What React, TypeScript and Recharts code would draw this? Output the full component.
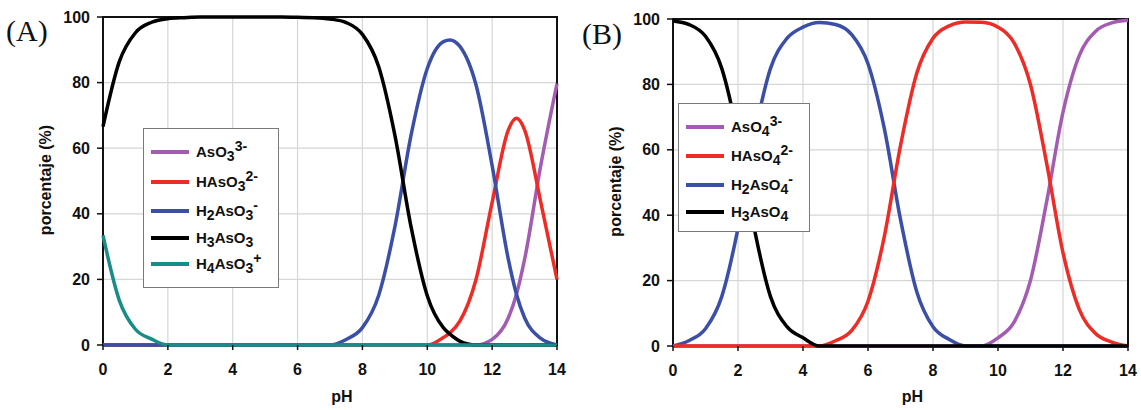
import React from "react";
import { LineChart, Line, XAxis, YAxis, CartesianGrid, ReferenceArea, Label } from "recharts";

// pH grid and species percentages
const phA = [0, 0.5, 1, 1.5, 2, 2.5, 3, 3.5, 4, 4.5, 5, 5.5, 6, 6.5, 7, 7.5, 8, 8.5, 9, 9.5, 10, 10.5, 10.7, 11, 11.5, 12, 12.5, 12.75, 13, 13.5, 14];
const asO3 = [0, 0, 0, 0, 0, 0, 0, 0, 0, 0, 0, 0, 0, 0, 0, 0, 0, 0, 0, 0, 0, 0, 0, 0, 0, 1.7, 8.3, 15.5, 26.1, 54.8, 79.7];
const hAsO3 = [0, 0, 0, 0, 0, 0, 0, 0, 0, 0, 0, 0, 0, 0, 0, 0, 0, 0, 0, 0, 0, 2.3, 3.7, 7.2, 19.9, 43.5, 65.6, 69.1, 65.6, 43.5, 20.0];
const h2AsO3 = [0, 0, 0, 0, 0, 0, 0, 0, 0, 0, 0, 0, 0, 0, 0, 1.7, 5.3, 15.1, 36.0, 64.0, 84.3, 92.5, 93.0, 91.1, 79.4, 54.7, 26.1, 15.5, 8.3, 2.0, 0];
const h3AsO3 = [66.6, 86.3, 95.2, 98.4, 99.5, 99.8, 100, 100, 100, 100, 100, 100, 99.9, 99.8, 99.4, 98.3, 94.7, 84.9, 64.0, 36.0, 15.0, 5.2, 3.3, 1.2, 0, 0, 0, 0, 0, 0, 0];
const h4AsO3 = [33.4, 13.7, 4.8, 1.8, 0, 0, 0, 0, 0, 0, 0, 0, 0, 0, 0, 0, 0, 0, 0, 0, 0, 0, 0, 0, 0, 0, 0, 0, 0, 0, 0];

const phB = [0, 0.5, 1, 1.5, 2, 2.5, 3, 3.5, 4, 4.5, 5, 5.5, 6, 6.5, 7, 7.5, 8, 8.5, 9, 9.5, 10, 10.5, 11, 11.5, 12, 12.5, 13, 13.5, 14];
const asO4 = [0, 0, 0, 0, 0, 0, 0, 0, 0, 0, 0, 0, 0, 0, 0, 0, 0, 0, 0, 0, 2.5, 7.4, 20.1, 44.3, 71.5, 88.8, 96.2, 98.8, 99.6];
const hAsO4 = [0, 0, 0, 0, 0, 0, 0, 0, 0, 0, 1.6, 4.8, 13.7, 33.4, 61.3, 83.4, 94.1, 97.9, 99.1, 99.0, 97.5, 92.6, 79.9, 55.7, 28.5, 11.2, 3.8, 1.2, 0];
const h2AsO4 = [0, 1.7, 5.3, 15.1, 36.0, 64.0, 84.9, 94.0, 97.5, 98.9, 98.3, 95.2, 86.3, 66.6, 38.7, 16.6, 5.9, 2.0, 0, 0, 0, 0, 0, 0, 0, 0, 0, 0, 0];
const h3AsO4 = [99.4, 98.3, 94.7, 84.9, 64.0, 36.0, 15.1, 6.0, 2.5, 0, 0, 0, 0, 0, 0, 0, 0, 0, 0, 0, 0, 0, 0, 0, 0, 0, 0, 0, 0];

const xTicks = [0, 2, 4, 6, 8, 10, 12, 14];
const yTicks = [0, 20, 40, 60, 80, 100];

const PURPLE = "#a45cb2";
const RED = "#ef2b25";
const BLUE = "#3b4fa6";
const BLACK = "#000000";
const TEAL = "#178c88";

const FONT = "'Liberation Sans', Arial, sans-serif";

const dataA = phA.map((ph, i) => ({
  ph,
  asO3: asO3[i],
  hAsO3: hAsO3[i],
  h2AsO3: h2AsO3[i],
  h3AsO3: h3AsO3[i],
  h4AsO3: h4AsO3[i],
}));

const dataB = phB.map((ph, i) => ({
  ph,
  asO4: asO4[i],
  hAsO4: hAsO4[i],
  h2AsO4: h2AsO4[i],
  h3AsO4: h3AsO4[i],
}));

// formula pieces: [text, kind]
type Part = [string, "" | "sub" | "sup"];
const legendA: { color: string; parts: Part[] }[] = [
  { color: PURPLE, parts: [["AsO", ""], ["3", "sub"], ["3-", "sup"]] },
  { color: RED, parts: [["HAsO", ""], ["3", "sub"], ["2-", "sup"]] },
  { color: BLUE, parts: [["H", ""], ["2", "sub"], ["AsO", ""], ["3", "sub"], ["-", "sup"]] },
  { color: BLACK, parts: [["H", ""], ["3", "sub"], ["AsO", ""], ["3", "sub"]] },
  { color: TEAL, parts: [["H", ""], ["4", "sub"], ["AsO", ""], ["3", "sub"], ["+", "sup"]] },
];
const legendB: { color: string; parts: Part[] }[] = [
  { color: PURPLE, parts: [["AsO", ""], ["4", "sub"], ["3-", "sup"]] },
  { color: RED, parts: [["HAsO", ""], ["4", "sub"], ["2-", "sup"]] },
  { color: BLUE, parts: [["H", ""], ["2", "sub"], ["AsO", ""], ["4", "sub"], ["-", "sup"]] },
  { color: BLACK, parts: [["H", ""], ["3", "sub"], ["AsO", ""], ["4", "sub"]] },
];

const Formula = ({ parts }: { parts: Part[] }) => (
  <span>
    {parts.map(([t, k], i) => (
      <span
        key={i}
        style={{
          position: "relative",
          fontSize: k ? 14 : 15,
          top: k === "sub" ? 4 : k === "sup" ? -6 : 0,
        }}
      >
        {t}
      </span>
    ))}
  </span>
);

const LegendBox = ({
  items,
  left,
  top,
  width,
  height,
  rows,
}: {
  items: { color: string; parts: Part[] }[];
  left: number;
  top: number;
  width: number;
  height: number;
  rows: number[];
}) => (
  <div
    style={{
      position: "absolute",
      left,
      top,
      width,
      height,
      boxSizing: "border-box",
      border: "1px solid #7a7a7a",
      background: "#fff",
      fontFamily: FONT,
      fontWeight: "bold",
      color: "#111",
    }}
  >
    {items.map((it, i) => (
      <div
        key={i}
        style={{
          position: "absolute",
          left: 7,
          top: rows[i] - top - 11,
          height: 22,
          display: "flex",
          alignItems: "center",
          whiteSpace: "nowrap",
        }}
      >
        <div style={{ width: 38, height: 4, background: it.color, marginRight: 7 }} />
        <Formula parts={it.parts} />
      </div>
    ))}
  </div>
);

const tickStyle = { fontSize: 16, fontWeight: "bold", fill: "#111", fontFamily: FONT };

const phLabel = (props: any) => {
  const vb = props.viewBox || { x: 0, width: 0 };
  return (
    <text x={vb.x + vb.width / 2 + 12} y={402} textAnchor="middle" fontSize={16} fontWeight="bold" fill="#111" fontFamily={FONT}>
      pH
    </text>
  );
};

const pctLabel = (props: any) => {
  const vb = props.viewBox || { y: 0, height: 0 };
  return (
    <text
      transform={`translate(51, ${vb.y + vb.height / 2 - 1}) rotate(-90)`}
      textAnchor="middle"
      fontSize={16}
      fontWeight="bold"
      fill="#111"
      fontFamily={FONT}
    >
      porcentaje (%)
    </text>
  );
};

const axes = (
  <>
    <CartesianGrid stroke="#d6d6d6" strokeWidth={1.2} />
    <XAxis
      dataKey="ph"
      type="number"
      domain={[0, 14]}
      ticks={xTicks}
      height={40}
      axisLine={false}
      tickLine={{ stroke: "#111", strokeWidth: 1.5 }}
      tickSize={5}
      tickMargin={14}
      tick={tickStyle}
    >
      <Label content={phLabel} />
    </XAxis>
    <YAxis
      type="number"
      domain={[0, 100]}
      ticks={yTicks}
      width={60}
      axisLine={false}
      tickLine={{ stroke: "#111", strokeWidth: 1.5 }}
      tickSize={6}
      tickMargin={7}
      tick={tickStyle}
    >
      <Label content={pctLabel} />
    </YAxis>
    <ReferenceArea x1={0} x2={14} y1={0} y2={100} stroke="#111" strokeWidth={2} fill="none" fillOpacity={0} />
  </>
);

const lineProps = { type: "monotone" as const, dot: false, strokeWidth: 3.5, isAnimationActive: false, activeDot: false };

export default function App() {
  return (
    <div style={{ position: "absolute", left: 0, top: 0, width: 1141, height: 410, background: "#fff", fontFamily: FONT }}>
      <div style={{ position: "absolute", left: 0, top: 0, width: 570, height: 410 }}>
        <LineChart width={570} height={410} data={dataA} margin={{ top: 17, right: 13, bottom: 25, left: 43 }}>
          {axes}
          <Line {...lineProps} dataKey="asO3" stroke={PURPLE} />
          <Line {...lineProps} dataKey="hAsO3" stroke={RED} />
          <Line {...lineProps} dataKey="h2AsO3" stroke={BLUE} />
          <Line {...lineProps} dataKey="h3AsO3" stroke={BLACK} />
          <Line {...lineProps} dataKey="h4AsO3" stroke={TEAL} />
        </LineChart>
        <LegendBox items={legendA} left={143} top={128} width={136} height={160} rows={[151, 181, 210, 237, 263]} />
        <div style={{ position: "absolute", left: 6, top: 14, fontFamily: "'Liberation Serif', 'Times New Roman', serif", fontSize: 30, color: "#111" }}>
          (A)
        </div>
      </div>
      <div style={{ position: "absolute", left: 570, top: 0, width: 571, height: 410 }}>
        <LineChart width={571} height={410} data={dataB} margin={{ top: 19, right: 13, bottom: 24, left: 43 }}>
          {axes}
          <Line {...lineProps} dataKey="asO4" stroke={PURPLE} />
          <Line {...lineProps} dataKey="h2AsO4" stroke={BLUE} />
          <Line {...lineProps} dataKey="hAsO4" stroke={RED} />
          <Line {...lineProps} dataKey="h3AsO4" stroke={BLACK} />
        </LineChart>
        <LegendBox items={legendB} left={108} top={103} width={132} height={129} rows={[126, 155, 184, 211]} />
        <div style={{ position: "absolute", left: 12, top: 17, fontFamily: "'Liberation Serif', 'Times New Roman', serif", fontSize: 30, color: "#111" }}>
          (B)
        </div>
      </div>
    </div>
  );
}
